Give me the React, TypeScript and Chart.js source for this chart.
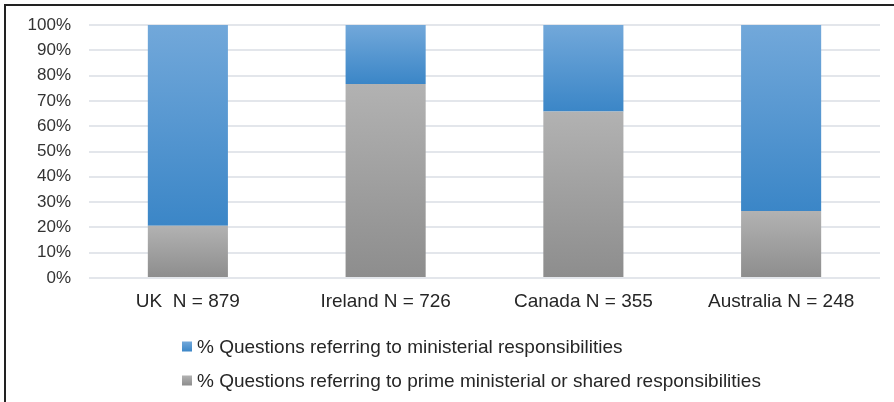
import React, { useEffect, useRef } from "react";
import { Chart, registerables } from "chart.js";

Chart.register(...registerables);

const categories = ["UK  N = 879", "Ireland N = 726", "Canada N = 355", "Australia N = 248"];
const primeShared = [20.7, 76.7, 65.8, 26.5];
const ministerial = [79.3, 23.3, 34.2, 73.5];
const seriesLabels = [
  "% Questions referring to ministerial responsibilities",
  "% Questions referring to prime ministerial or shared responsibilities",
];
const yTicks = [0, 10, 20, 30, 40, 50, 60, 70, 80, 90, 100];

const FONT = '"Liberation Sans", Arial, sans-serif';
const BLUE_TOP = "#72a8da";
const BLUE_BOT = "#3b86c7";
const GRAY_TOP = "#b2b2b2";
const GRAY_BOT = "#8d8d8d";

function segGradient(ctx: any, fromVal: number, toVal: number, top: string, bot: string, fallback: string) {
  const chart = ctx.chart;
  if (!chart.chartArea || !chart.scales || !chart.scales.y) return fallback;
  const y = chart.scales.y;
  const yTop = y.getPixelForValue(toVal);
  const yBot = y.getPixelForValue(fromVal);
  if (!isFinite(yTop) || !isFinite(yBot) || yTop === yBot) return fallback;
  const g = chart.ctx.createLinearGradient(0, yTop, 0, yBot);
  g.addColorStop(0, top);
  g.addColorStop(1, bot);
  return g;
}

const legendPlugin = {
  id: "customLegend",
  afterDraw(chart: any) {
    const c = chart.ctx;
    c.save();
    const items = [
      { label: seriesLabels[0], top: BLUE_TOP, bot: BLUE_BOT, y: 352.5 },
      { label: seriesLabels[1], top: GRAY_TOP, bot: GRAY_BOT, y: 386.5 },
    ];
    for (const it of items) {
      const sq = 10;
      const sy = it.y - 11;
      const g = c.createLinearGradient(0, sy, 0, sy + sq);
      g.addColorStop(0, it.top);
      g.addColorStop(1, it.bot);
      c.fillStyle = g;
      c.fillRect(182, sy, sq, sq);
      c.fillStyle = "#262626";
      c.font = `19px ${FONT}`;
      c.textBaseline = "alphabetic";
      c.textAlign = "left";
      c.fillText(it.label, 197, it.y);
    }
    c.restore();
  },
};

export default function App() {
  const ref = useRef<HTMLCanvasElement>(null);
  useEffect(() => {
    if (!ref.current) return;
    const chart = new Chart(ref.current, {
      type: "bar",
      data: {
        labels: categories,
        datasets: [
          {
            label: seriesLabels[1],
            data: primeShared,
            backgroundColor: (ctx: any) =>
              segGradient(ctx, 0, primeShared[ctx.dataIndex] ?? 0, GRAY_TOP, GRAY_BOT, "#a0a0a0"),
            borderWidth: 0,
            barPercentage: 0.405,
            categoryPercentage: 1,
          },
          {
            label: seriesLabels[0],
            data: ministerial,
            backgroundColor: (ctx: any) =>
              segGradient(
                ctx,
                primeShared[ctx.dataIndex] ?? 0,
                (primeShared[ctx.dataIndex] ?? 0) + (ministerial[ctx.dataIndex] ?? 0),
                BLUE_TOP,
                BLUE_BOT,
                "#5b9bd5"
              ),
            borderWidth: 0,
            barPercentage: 0.405,
            categoryPercentage: 1,
          },
        ],
      },
      options: {
        responsive: false,
        animation: false,
        layout: { padding: { left: 0, right: 14, top: 25, bottom: 0 } },
        plugins: { legend: { display: false }, tooltip: { enabled: false } },
        scales: {
          x: {
            stacked: true,
            grid: { display: false, drawTicks: false },
            border: { display: false },
            ticks: { color: "#262626", font: { family: FONT, size: 19 }, padding: 12, maxRotation: 0 },
            afterFit: (s: any) => {
              s.height = 124;
              s.paddingLeft = 0;
              s.paddingRight = 0;
            },
          },
          y: {
            stacked: true,
            min: 0,
            max: 100,
            afterBuildTicks: (s: any) => {
              s.ticks = yTicks.map((v) => ({ value: v }));
            },
            grid: { color: "#e3e6eb", lineWidth: 2, drawTicks: false },
            border: { display: false },
            ticks: {
              color: "#333333",
              font: { family: FONT, size: 17 },
              padding: 18,
              callback: (v: any) => `${v}%`,
            },
            afterFit: (s: any) => {
              s.width = 89;
              s.paddingTop = 0;
              s.paddingBottom = 0;
            },
          },
        },
      },
      plugins: [legendPlugin],
    });
    return () => chart.destroy();
  }, []);

  return (
    <div style={{ position: "absolute", left: 0, top: 0, width: 894, height: 402, background: "#fff", overflow: "hidden" }}>
      <canvas ref={ref} width={894} height={402} style={{ position: "absolute", left: 0, top: 0 }} />
      <div
        style={{
          position: "absolute",
          left: 4,
          top: 4,
          width: 1000,
          height: 1000,
          borderLeft: "2px solid #222",
          borderTop: "2px solid #222",
          pointerEvents: "none",
        }}
      />
    </div>
  );
}
